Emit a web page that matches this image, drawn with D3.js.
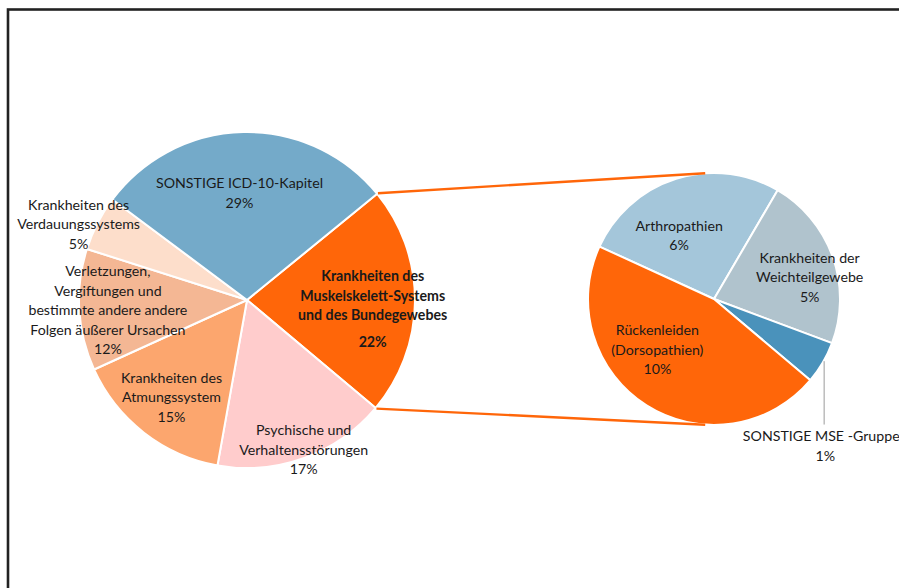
<!DOCTYPE html>
<html><head><meta charset="utf-8">
<script src="https://cdn.jsdelivr.net/npm/d3@7"></script>
<style>
html,body{margin:0;padding:0;background:#fff;}
svg{display:block;}
text{font-family:Lato,"Open Sans",sans-serif;fill:#1a1a1a;}
</style></head>
<body>
<svg id="chart" width="899" height="588"></svg>
<script>
// ---- data ----
const mainCategories = [
  "Krankheiten des Muskelskelett-Systems und des Bundegewebes",
  "Psychische und Verhaltensstörungen",
  "Krankheiten des Atmungssystem",
  "Verletzungen, Vergiftungen und bestimmte andere andere Folgen äußerer Ursachen",
  "Krankheiten des Verdauungssystems",
  "SONSTIGE ICD-10-Kapitel"
];
const mainValues = [22.0, 16.7, 15.4, 11.7, 5.3, 28.9];
const mainLabels = ["22%", "17%", "15%", "12%", "5%", "29%"];
const mainLabelLines = [
  ["Krankheiten des", "Muskelskelett-Systems", "und des Bundegewebes", "", "22%"],
  ["Psychische und", "Verhaltensstörungen", "17%"],
  ["Krankheiten des", "Atmungssystem", "15%"],
  ["Verletzungen,", "Vergiftungen und", "bestimmte andere andere", "Folgen äußerer Ursachen", "12%"],
  ["Krankheiten des", "Verdauungssystems", "5%"],
  ["SONSTIGE ICD-10-Kapitel", "29%"]
];

const subCategories = ["Arthropathien", "Krankheiten der Weichteilgewebe", "SONSTIGE MSE -Gruppen", "Rückenleiden (Dorsopathien)"];
const subValues = [5.85, 4.9, 1.2, 10.05];
const subLabels = ["6%", "5%", "1%", "10%"];
const subLabelLines = [
  ["Arthropathien", "6%"],
  ["Krankheiten der", "Weichteilgewebe", "5%"],
  ["SONSTIGE MSE -Gruppen", "1%"],
  ["Rückenleiden", "(Dorsopathien)", "10%"]
];

// ---- styles / layout ----
const mainColors = ["#ff6609", "#ffcccc", "#fca66e", "#f4b794", "#fddecb", "#74aac9"];
const subColors = ["#a4c6da", "#b0c3cd", "#4a92bb", "#ff6609"];
const deg = Math.PI / 180;
const mainCenter = [247, 300], mainR = 168, mainStart = 50.8;
const subCenter = [714, 299], subR = 126, subStart = -65.4;
// label placement: [angle (deg, clockwise from 12 o'clock), radius factor]
const mainLabelPolar = [[94, 0.75], [159.2, 0.95], [218, 0.73], [266, 0.83], [294.3, 1.1], [-4, 0.64]];
const subLabelPolar = [[331.5, 0.58], [76.8, 0.78], [142.8, 1.46], [228.5, 0.60]];
const lineH = 19.5;

const svg = d3.select("#chart");

// border
svg.append("rect").attr("x", 8).attr("y", 9.5).attr("width", 900).attr("height", 600)
  .attr("fill", "none").attr("stroke", "#222").attr("stroke-width", 2.6);

function polar(c, a, r) { return [c[0] + r * Math.sin(a * deg), c[1] - r * Math.cos(a * deg)]; }

function drawPie(values, colors, center, R, startDeg) {
  const pie = d3.pie().sort(null).value(d => d)
    .startAngle(startDeg * deg).endAngle(startDeg * deg + 2 * Math.PI);
  const arcs = pie(values);
  const arc = d3.arc().innerRadius(0).outerRadius(R);
  const g = svg.append("g").attr("transform", `translate(${center[0]},${center[1]})`);
  g.selectAll("path").data(arcs).join("path")
    .attr("d", arc).attr("fill", (d, i) => colors[i])
    .attr("stroke", "#fff").attr("stroke-width", 2).attr("stroke-linejoin", "round");
  return arcs;
}

const mainArcs = drawPie(mainValues, mainColors, mainCenter, mainR, mainStart);
const subArcs = drawPie(subValues, subColors, subCenter, subR, subStart);

// connector lines
const m = mainArcs[0];
const p1 = polar(mainCenter, m.startAngle / deg, mainR + 1);
const p2 = polar(mainCenter, m.endAngle / deg, mainR + 1);
const q1 = polar(subCenter, -4, subR);
const q2 = polar(subCenter, 184, subR);
svg.append("line").attr("x1", p1[0]).attr("y1", p1[1]).attr("x2", q1[0]).attr("y2", q1[1])
  .attr("stroke", "#ff6609").attr("stroke-width", 2.4);
svg.append("line").attr("x1", p2[0]).attr("y1", p2[1]).attr("x2", q2[0]).attr("y2", q2[1])
  .attr("stroke", "#ff6609").attr("stroke-width", 2.4);

// leader line for small slice
const sArc = subArcs[2];
const mid = (sArc.startAngle + sArc.endAngle) / 2 / deg;
const lp = polar(subCenter, mid, subR * 0.93);
const lblPos = polar(subCenter, subLabelPolar[2][0], subLabelPolar[2][1] * subR);
svg.append("line").attr("x1", lblPos[0] - 1).attr("y1", lp[1] + 3).attr("x2", lblPos[0] - 1).attr("y2", lblPos[1] - 21)
  .attr("stroke", "#bfbfbf").attr("stroke-width", 1.6);

function drawLabels(lines, polarPos, center, R, boldIdx) {
  lines.forEach((ls, i) => {
    const pos = polar(center, polarPos[i][0], polarPos[i][1] * R);
    // compute offsets (empty line = half spacer)
    const steps = ls.map(s => s === "" ? 0.45 : 1);
    let ys = [], y = 0;
    ls.forEach((s, j) => { if (j > 0) y += (s === "" ? 0.45 : (ls[j - 1] === "" ? 0.95 : 1)) * lineH; ys.push(y); });
    const total = ys[ys.length - 1];
    const t = svg.append("text").attr("text-anchor", "middle")
      .attr("font-size", 14.2).attr("font-weight", i === boldIdx ? "bold" : "normal");
    ls.forEach((s, j) => {
      if (s === "") return;
      t.append("tspan").attr("x", pos[0]).attr("y", pos[1] - total / 2 + ys[j])
        .attr("dominant-baseline", "central").text(s);
    });
  });
}
drawLabels(mainLabelLines, mainLabelPolar, mainCenter, mainR, 0);
drawLabels(subLabelLines, subLabelPolar, subCenter, subR, -1);
</script>
</body></html>
